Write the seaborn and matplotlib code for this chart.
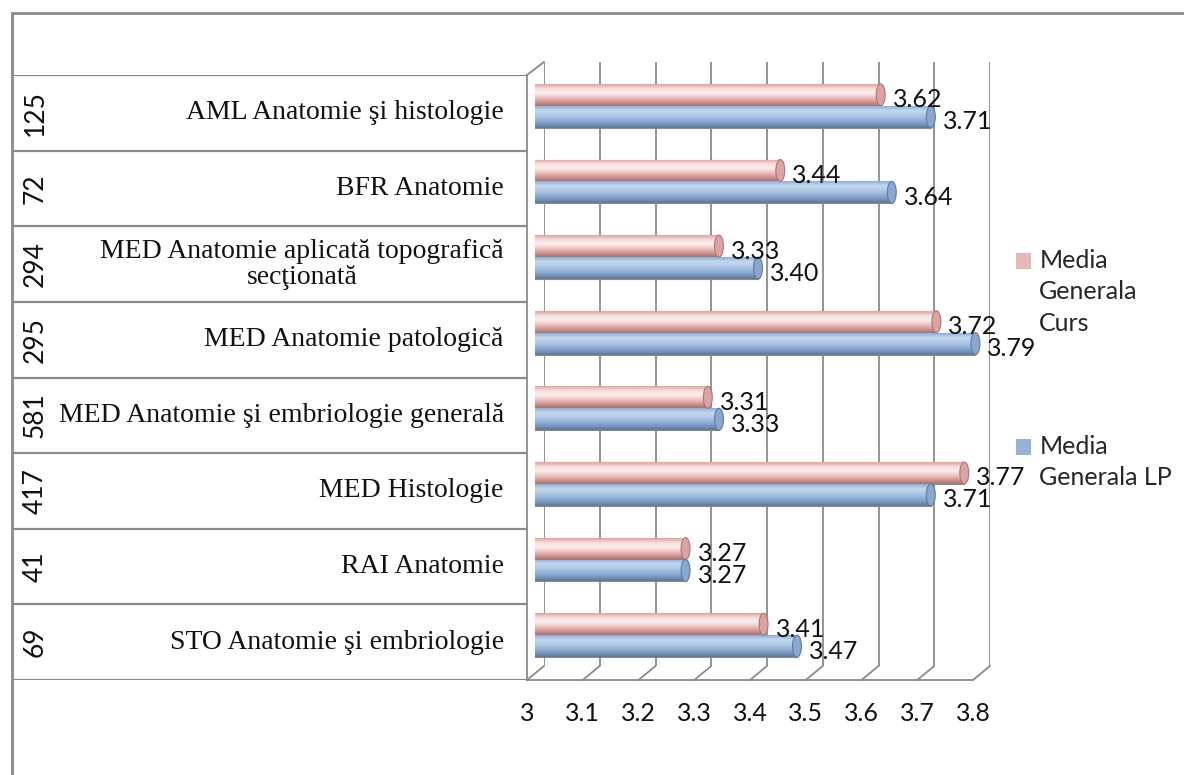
import numpy as np
import pandas as pd
import matplotlib
matplotlib.use("Agg")
import matplotlib.pyplot as plt
import seaborn as sns
from matplotlib.patches import Patch, Rectangle, ConnectionPatch, Ellipse
from matplotlib.colors import LinearSegmentedColormap
from matplotlib.legend_handler import HandlerPatch

# data
categories = [
    "AML Anatomie şi histologie",
    "BFR Anatomie",
    "MED Anatomie aplicată topografică\nsecţionată",
    "MED Anatomie patologică",
    "MED Anatomie şi embriologie generală",
    "MED Histologie",
    "RAI Anatomie",
    "STO Anatomie şi embriologie",
]
counts = [125, 72, 294, 295, 581, 417, 41, 69]
media_curs = [3.62, 3.44, 3.33, 3.72, 3.31, 3.77, 3.27, 3.41]
media_lp = [3.71, 3.64, 3.40, 3.79, 3.33, 3.71, 3.27, 3.47]
series_names = ["Media\nGenerala\nCurs", "Media\nGenerala LP"]
xticks = [3, 3.1, 3.2, 3.3, 3.4, 3.5, 3.6, 3.7, 3.8]

df = pd.DataFrame({
    "disciplina": categories * 2,
    "serie": [series_names[0]] * len(categories) + [series_names[1]] * len(categories),
    "media": media_curs + media_lp,
})

sns.set_theme(style="white")
plt.rcParams["font.family"] = ["Lato", "DejaVu Sans"]

W, H = 1184, 775
fig = plt.figure(figsize=(W / 100, H / 100), dpi=100)

def rect(x0, top, x1, bottom):
    return [x0 / W, 1 - bottom / H, (x1 - x0) / W, (bottom - top) / H]

grid_col = "#8a8a8a"
pink = "#E6B9B8"
blue = "#95B3D7"

# back wall (grid lines)
ax_back = fig.add_axes(rect(544, 62, 990, 666))
ax_back.set_xlim(3, 3.8)
ax_back.set_xticks(xticks)
ax_back.tick_params(length=0, labelbottom=False, labelleft=False)
ax_back.xaxis.grid(True, color=grid_col, lw=1.3)
for s in ax_back.spines.values():
    s.set_visible(False)
ax_back.patch.set_alpha(0)

# front floor / left wall with tick labels
ax_front = fig.add_axes(rect(527, 75, 973, 680))
ax_front.set_xlim(3, 3.8)
ax_front.set_xticks(xticks)
ax_front.set_xticklabels([f"{t:g}" for t in xticks], fontsize=18, color="#111111")
ax_front.set_yticks([])
ax_front.tick_params(axis="x", length=9, width=1.3, color=grid_col, pad=7)
for side in ["top", "right"]:
    ax_front.spines[side].set_visible(False)
for side in ["left", "bottom"]:
    ax_front.spines[side].set_color(grid_col)
    ax_front.spines[side].set_linewidth(1.3)
ax_front.patch.set_alpha(0)

# slanted depth lines between floor and back wall
for t in xticks:
    fig.add_artist(ConnectionPatch(xyA=(t, 0), coordsA=ax_front.get_xaxis_transform(),
                                   xyB=(t, 0), coordsB=ax_back.get_xaxis_transform(),
                                   color=grid_col, lw=1.3))
fig.add_artist(ConnectionPatch(xyA=(3, 1), coordsA=ax_front.get_xaxis_transform(),
                               xyB=(3, 1), coordsB=ax_back.get_xaxis_transform(),
                               color=grid_col, lw=1.3))

# bars, drawn at mid depth
ax_bars = fig.add_axes(rect(535, 68, 981, 673))
sns.barplot(data=df, x="media", y="disciplina", hue="serie", hue_order=series_names,
            palette=[pink, blue], width=0.58, orient="h", ax=ax_bars, legend=False,
            linewidth=0.8, edgecolor="#8c8c8c")
ax_bars.set_xlim(3, 3.8)
ax_bars.set_ylim(7.5, -0.5)
ax_bars.axis("off")
ax_bars.patch.set_alpha(0)
xmin = ax_bars.get_xlim()[0]

shades = [
    ["#d9a6a5", "#f6dcdb", "#fbeeee", "#efc6c5", "#d29997", "#a77270"],
    ["#8fadd3", "#c5d7ee", "#b3cbe8", "#98b5da", "#7c9ac2", "#5d7799"],
]
cap_cols = [("#dba3a2", "#a97876"), ("#8aa8cf", "#5f7a9e")]
grad = np.linspace(0, 1, 64).reshape(-1, 1)
for container, cols, (cap_fc, cap_ec) in zip(ax_bars.containers, shades, cap_cols):
    cmap = LinearSegmentedColormap.from_list("cyl", cols)
    for patch in container:
        bb = patch.get_bbox()
        yc = bb.y0 + (bb.y1 - bb.y0) / 2
        im = ax_bars.imshow(grad, extent=[max(bb.x0, xmin), bb.x1, bb.y1, bb.y0], aspect="auto",
                            cmap=cmap, zorder=patch.get_zorder() + 0.1, origin="upper")
        im.set_clip_path(patch)
        # rounded end of the cylinder
        ax_bars.add_patch(Ellipse((bb.x1, yc), width=0.016, height=abs(bb.y1 - bb.y0),
                                  fc=cap_fc, ec=cap_ec, lw=0.8, zorder=patch.get_zorder() + 0.2))
        ax_bars.annotate(f"{patch.get_width():.2f}", xy=(patch.get_width(), yc),
                         xytext=(12, -5), textcoords="offset pixels",
                         ha="left", va="center", fontsize=18, color="#111111",
                         zorder=10)
ax_bars.set_xlim(3, 3.8)
ax_bars.set_ylim(7.5, -0.5)

# category table on the left
ax_tab = fig.add_axes(rect(12, 75, 527, 680))
ax_tab.set_xlim(0, 1)
ax_tab.set_ylim(len(categories) - 0.5, -0.5)
ax_tab.axis("off")
for i in range(len(categories) + 1):
    ax_tab.axhline(i - 0.5, color=grid_col, lw=1.6)
for i, (cat, n) in enumerate(zip(categories, counts)):
    ax_tab.text(0.955, i, cat, ha="right", va="center", multialignment="center",
                fontsize=20, family="Liberation Serif", color="#111111", linespacing=1.05)
    ax_tab.text(0.045, i, str(n), ha="center", va="center", rotation=90,
                fontsize=19, color="#111111")

# outer frame
fig.add_artist(Rectangle((12 / W, -0.1), 2, 1 - 13 / H + 0.1, transform=fig.transFigure,
                         fill=False, ec=grid_col, lw=2))

# legend: square next to the first line of each (multi-line) label
handles = [Patch(facecolor=pink, edgecolor="none"), Patch(facecolor=blue, edgecolor="none")]
n_lines = {id(h): name.count("\n") + 1 for h, name in zip(handles, series_names)}

def top_square(legend, orig_handle, xdescent, ydescent, width, height, fontsize):
    shift = (n_lines[id(orig_handle)] - 1) / 2 * fontsize * 1.24
    return Rectangle((-xdescent, -ydescent + shift), width, height)

leg = fig.legend(handles, series_names, loc="upper left", bbox_to_anchor=(993 / W, 1 - 226 / H),
                 frameon=False, fontsize=18, handlelength=0.6, handleheight=0.6,
                 handletextpad=0.35, labelspacing=4.0, alignment="left",
                 handler_map={Patch: HandlerPatch(patch_func=top_square)})
for txt in leg.get_texts():
    txt.set_linespacing(1.45)

fig.savefig("out.png", dpi=100)
